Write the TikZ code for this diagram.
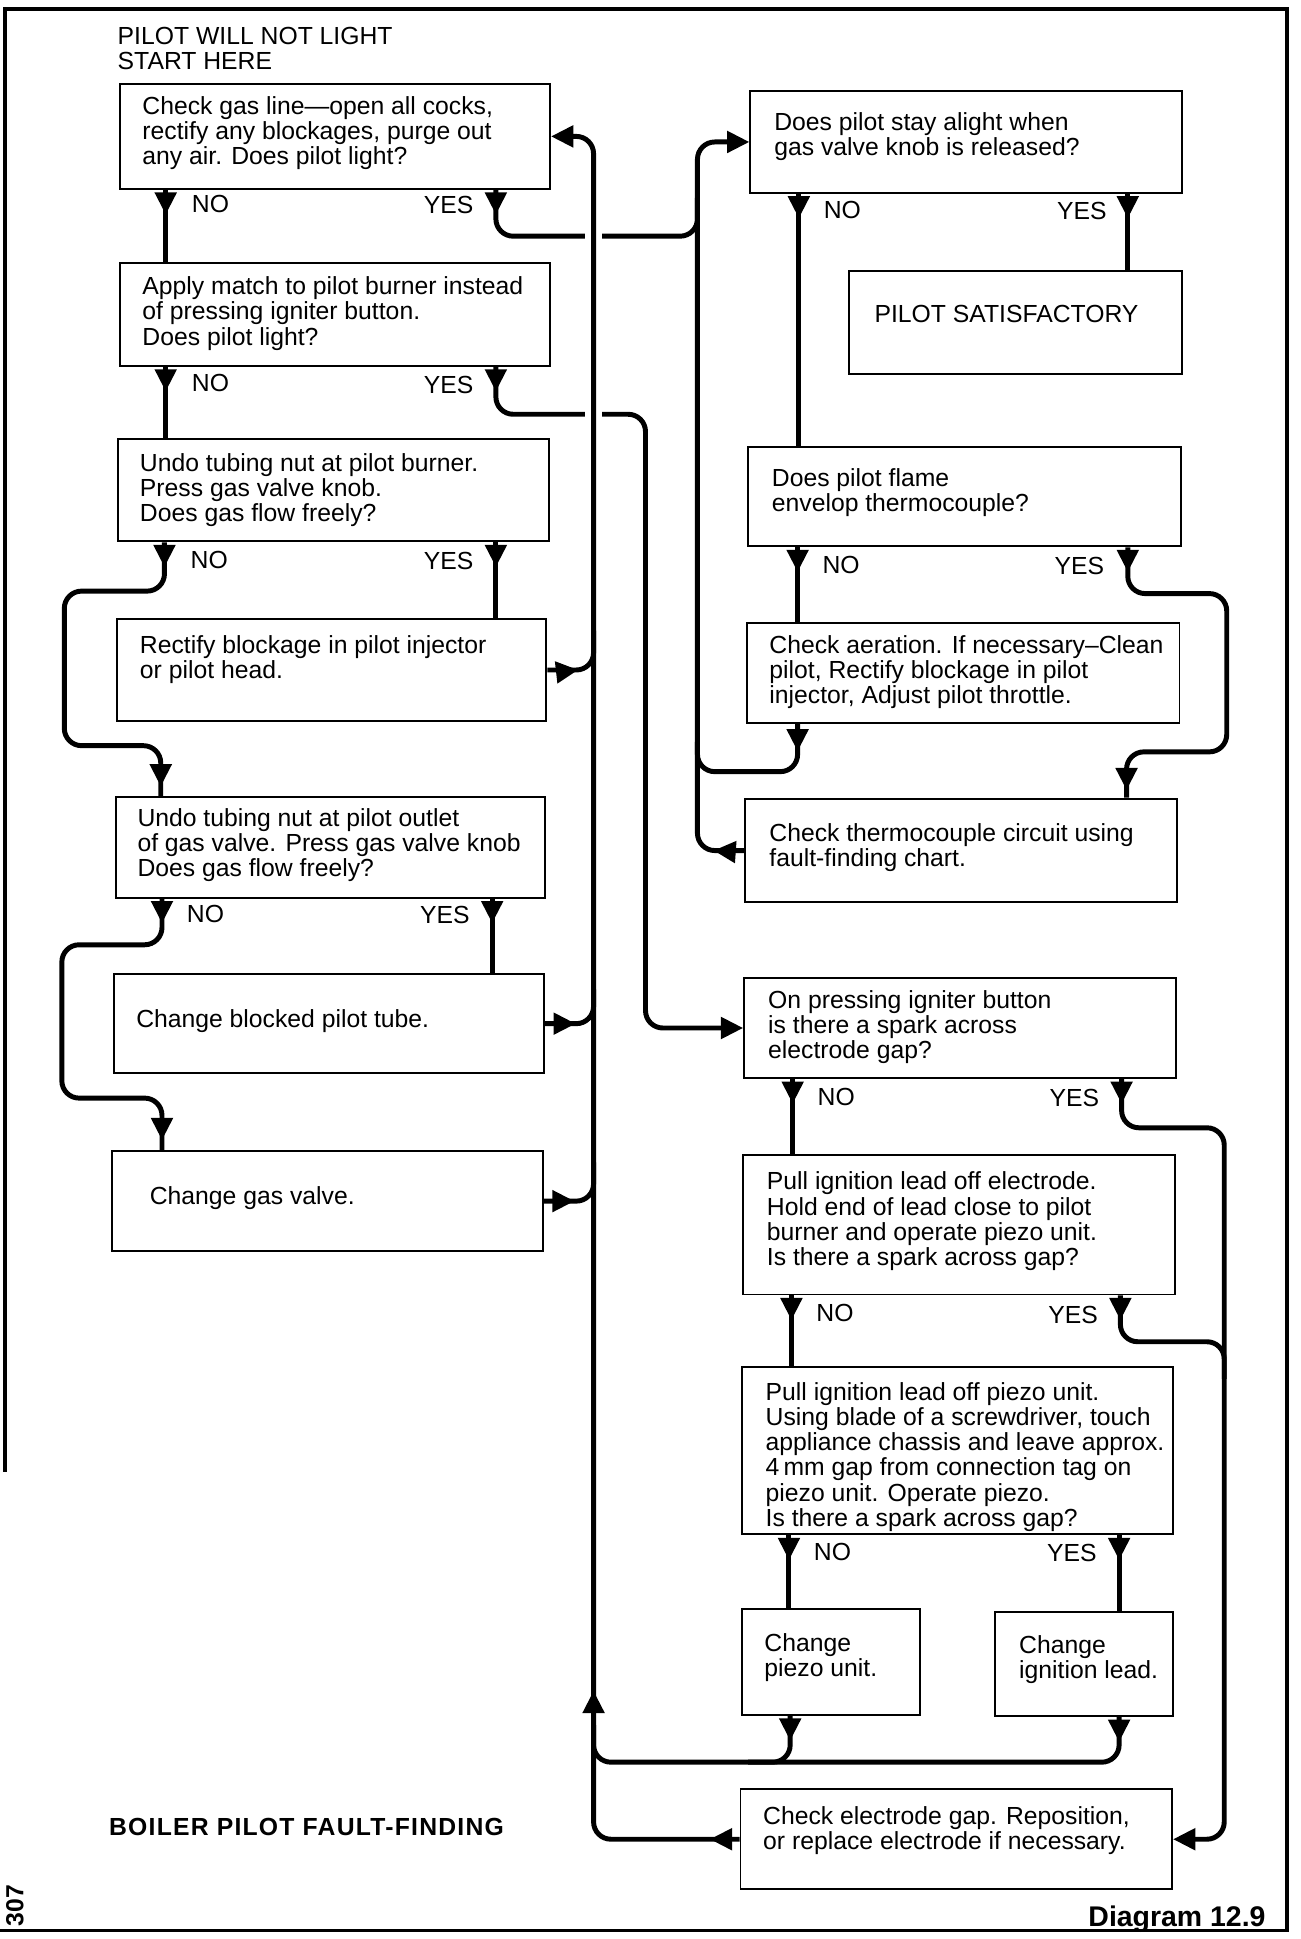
\documentclass[tikz,border=0pt]{standalone}
\usepackage{fontspec}
\setmainfont{Liberation Sans}
\usetikzlibrary{arrows.meta,decorations.markings}
\tikzset{Flow/.tip={Triangle[length=18pt,width=17pt]}}

\begin{document}
\begin{tikzpicture}[
  x=1pt,y=-1pt,
  card/.style={draw,line width=1.6pt,anchor=north west,inner sep=0pt},
  body/.style={anchor=north west,inner sep=0pt,align=left,
               font=\fontsize{20}{20.4}\selectfont},
  answer/.style={inner sep=0pt,font=\fontsize{20}{24}\selectfont},
  flow/.style={line width=4pt,rounded corners=14pt},
  exitmark/.style={postaction={decorate,decoration={markings,
      mark=at position #1 with {\arrow{Flow}}}}},
  exitmark/.default=20pt,
  entrymark/.style={postaction={decorate,decoration={markings,
      mark=at position -#1 with {\arrow{Flow}}}}},
  entrymark/.default=8pt,
]
  \useasboundingbox[fill=white] (0,0) rectangle (1052,1568);
  \draw[line width=3pt] (4,1190) -- (4,7) -- (1041,7) -- (1041,1561) -- (0,1561);

  \node[body] (start) at (95,21.5) {PILOT WILL NOT LIGHT\\START HERE};

  % left column
  \node[card,minimum width=348pt,minimum height=85pt] (b1) at (96,67) {};
  \node[body] (b1txt) at (115,77.5)
    {Check gas line—open all cocks,\\rectify any blockages, purge out\\any air. Does pilot light?};
  \node[card,minimum width=348pt,minimum height=83pt] (b2) at (96,212) {};
  \node[body] (b2txt) at (115,223.5)
    {Apply match to pilot burner instead\\of pressing igniter button.\\Does pilot light?};
  \node[card,minimum width=348pt,minimum height=83pt] (b3) at (95,354) {};
  \node[body] (b3txt) at (113,366.5)
    {Undo tubing nut at pilot burner.\\Press gas valve knob.\\Does gas flow freely?};
  \node[card,minimum width=347pt,minimum height=82pt] (b4) at (94,500) {};
  \node[body] (b4txt) at (113,513.5)
    {Rectify blockage in pilot injector\\or pilot head.};
  \node[card,minimum width=347pt,minimum height=81pt] (b5) at (93,644) {};
  \node[body] (b5txt) at (111,653.5)
    {Undo tubing nut at pilot outlet\\of gas valve. Press gas valve knob\\Does gas flow freely?};
  \node[card,minimum width=348pt,minimum height=80pt] (b6) at (91,787) {};
  \node[body] (b6txt) at (110,816.5) {Change blocked pilot tube.};
  \node[card,minimum width=348pt,minimum height=81pt] (b7) at (90,930) {};
  \node[body] (b7txt) at (121,959.5) {Change gas valve.};

  % right column
  \node[card,minimum width=349pt,minimum height=82pt] (r1) at (606,73) {};
  \node[body] (r1txt) at (626,90.5)
    {Does pilot stay alight when\\gas valve knob is released?};
  \node[card,minimum width=269pt,minimum height=84pt] (r2) at (686,218) {};
  \node[body] (r2txt) at (707,246.5) {PILOT SATISFACTORY};
  \node[card,minimum width=350pt,minimum height=80pt] (r3) at (604,361) {};
  \node[body] (r3txt) at (624,378.5)
    {Does pilot flame\\envelop thermocouple?};
  \node[card,minimum width=350pt,minimum height=81pt] (r4) at (603,503) {};
  \node[body] (r4txt) at (622,513.5)
    {Check aeration. If necessary–Clean\\pilot, Rectify blockage in pilot\\injector, Adjust pilot throttle.};
  \node[card,minimum width=349pt,minimum height=84pt] (r5) at (602,645) {};
  \node[body] (r5txt) at (622,665.5)
    {Check thermocouple circuit using\\fault-finding chart.};
  \node[card,minimum width=349pt,minimum height=81pt] (r6) at (601,790) {};
  \node[body] (r6txt) at (621,800.5)
    {On pressing igniter button\\is there a spark across\\electrode gap?};
  \node[card,minimum width=349pt,minimum height=113pt] (r7) at (600,933) {};
  \node[body] (r7txt) at (620,947.5)
    {Pull ignition lead off electrode.\\Hold end of lead close to pilot\\burner and operate piezo unit.\\Is there a spark across gap?};
  \node[card,minimum width=349pt,minimum height=135pt] (r8) at (599,1105) {};
  \node[body] (r8txt) at (619,1117.5)
    {Pull ignition lead off piezo unit.\\Using blade of a screwdriver, touch\\appliance chassis and leave approx.\\4\,mm gap from connection tag on\\piezo unit. Operate piezo.\\Is there a spark across gap?};
  \node[card,minimum width=144pt,minimum height=86pt] (r9) at (599,1300) {};
  \node[body] (r9txt) at (618,1320.5) {Change\\piezo unit.};
  \node[card,minimum width=144pt,minimum height=84pt] (r10) at (804,1303) {};
  \node[body] (r10txt) at (824,1322.5) {Change\\ignition lead.};
  \node[card,minimum width=349pt,minimum height=81pt] (r11) at (598,1446) {};
  \node[body] (r11txt) at (617,1460.5)
    {Check electrode gap. Reposition,\\or replace electrode if necessary.};

  \node[answer,font=\fontsize{20}{24}\selectfont\bfseries\addfontfeatures{LetterSpace=5},
        anchor=west] (caption) at (88,1477) {BOILER PILOT FAULT-FINDING};
  \node[answer,font=\fontsize{23}{26}\selectfont\bfseries,anchor=west] (plate) at (880,1552)
    {Diagram 12.9};
  \node[answer,font=\fontsize{20}{24}\selectfont\bfseries,rotate=90] (folio) at (12,1541) {307};

  % gaps where the yes lines pass the return line
  \coordinate (hopa) at (473,191);
  \coordinate (hopb) at (487,191);
  \coordinate (hopc) at (473,335);
  \coordinate (hopd) at (487,335);

  % left column connectors
  \draw[flow,exitmark] (134,0 |- b1.south) -- (134,0 |- b2.north);
  \node[answer,anchor=west] (b1no) at (155,165) {NO};
  \node[answer,anchor=east] (b1yes) at (383,166) {YES};
  \draw[flow,exitmark] (401,0 |- b1.south) -- (401,191) -- (hopa);
  \draw[flow] (hopb) -- (564,191) -- (564,160);

  \draw[flow,exitmark] (134,0 |- b2.south) -- (134,0 |- b3.north);
  \node[answer,anchor=west] (b2no) at (155,310) {NO};
  \node[answer,anchor=east] (b2yes) at (383,311) {YES};
  \draw[flow,exitmark] (401,0 |- b2.south) -- (401,335) -- (hopc);
  \draw[flow,-{Flow}] (hopd) -- (522,335) -- (522,0 |- r6.west) -- (r6.west);

  \draw[flow,exitmark,entrymark] (133,0 |- b3.south) -- (133,478) -- (52,478)
    -- (52,603) -- (130,603) -- (130,0 |- b5.north);
  \node[answer,anchor=west] (b3no) at (154,453) {NO};
  \node[answer,anchor=east] (b3yes) at (383,454) {YES};
  \draw[flow,exitmark] (401,0 |- b3.south) -- (401,0 |- b4.north);
  \draw[flow,exitmark=25pt] (b4.east) -- (480,0 |- b4.east) -- (480,510);

  \draw[flow,exitmark,entrymark] (131,0 |- b5.south) -- (131,764) -- (50,764)
    -- (50,888) -- (131,888) -- (131,0 |- b7.north);
  \node[answer,anchor=west] (b5no) at (151,739) {NO};
  \node[answer,anchor=east] (b5yes) at (380,740) {YES};
  \draw[flow,exitmark] (398,0 |- b5.south) -- (398,0 |- b6.north);
  \draw[flow,exitmark=25pt] (b6.east) -- (480,0 |- b6.east) -- (480,800);
  \draw[flow,exitmark=25pt] (b7.east) -- (480,0 |- b7.east) -- (480,940);

  % return line up to the first check
  \draw[flow,exitmark=24pt,exitmark=232pt,-{Flow}] (r11.west) -- (480,0 |- r11.west)
    -- (480,0 |- b1.east) -- (b1.east);

  % right column connectors
  \draw[flow,exitmark] (646,0 |- r1.south) -- (646,0 |- r3.north);
  \node[answer,anchor=west] (r1no) at (666,170) {NO};
  \node[answer,anchor=east] (r1yes) at (895,171) {YES};
  \draw[flow,exitmark] (912,0 |- r1.south) -- (912,0 |- r2.north);

  \draw[flow,exitmark] (645,0 |- r3.south) -- (645,0 |- r4.north);
  \node[answer,anchor=west] (r3no) at (665,457) {NO};
  \node[answer,anchor=east] (r3yes) at (893,458) {YES};
  \draw[flow,exitmark,entrymark=6pt] (912,0 |- r3.south) -- (912,480) -- (992,480)
    -- (992,608) -- (911,608) -- (911,0 |- r5.north);
  \draw[flow,exitmark=22pt] (645,0 |- r4.south) -- (645,624) -- (564,624) -- (564,600);
  \draw[flow,exitmark=25pt,-{Flow}] (r5.west) -- (564,0 |- r5.west) -- (564,0 |- r1.west) -- (r1.west);

  \draw[flow,exitmark] (641,0 |- r6.south) -- (641,0 |- r7.north);
  \node[answer,anchor=west] (r6no) at (661,887) {NO};
  \node[answer,anchor=east] (r6yes) at (889,888) {YES};
  \draw[flow,exitmark,-{Flow}] (907,0 |- r6.south) -- (907,912) -- (990,912)
    -- (990,0 |- r11.east) -- (r11.east);

  \draw[flow,exitmark] (640,0 |- r7.south) -- (640,0 |- r8.north);
  \node[answer,anchor=west] (r7no) at (660,1062) {NO};
  \node[answer,anchor=east] (r7yes) at (888,1063) {YES};
  \draw[flow,exitmark] (906,0 |- r7.south) -- (906,1085) -- (990,1085) -- (990,1115);

  \draw[flow,exitmark] (638,0 |- r8.south) -- (638,0 |- r9.north);
  \node[answer,anchor=west] (r8no) at (658,1255) {NO};
  \node[answer,anchor=east] (r8yes) at (887,1256) {YES};
  \draw[flow,exitmark] (905,0 |- r8.south) -- (905,0 |- r10.north);

  \draw[flow,exitmark] (639,0 |- r9.south) -- (639,1425) -- (605,1425);
  \draw[flow,exitmark] (905,0 |- r10.south) -- (905,1425) -- (480,1425) -- (480,1395);
\end{tikzpicture}
\end{document}
